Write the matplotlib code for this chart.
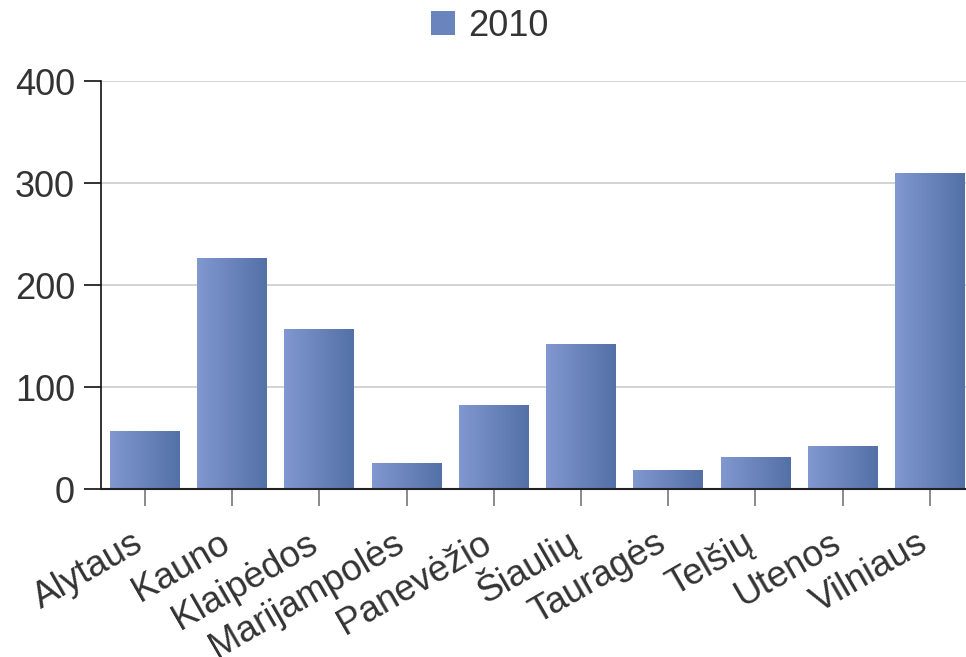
import numpy as np
import matplotlib
matplotlib.use('Agg')
import matplotlib.pyplot as plt
import matplotlib.transforms as mtransforms
from matplotlib.colors import LinearSegmentedColormap
from matplotlib.patches import Patch

# data
regions = ['Alytaus', 'Kauno', 'Klaipėdos', 'Marijampolės', 'Panevėžio',
           'Šiaulių', 'Tauragės', 'Telšių', 'Utenos', 'Vilniaus']
values_2010 = [57, 227, 157, 26, 83, 142, 19, 32, 42, 310]
series_name = '2010'
yticks = [0, 100, 200, 300, 400]

plt.rcParams['font.family'] = ['Liberation Sans', 'DejaVu Sans']
txt_color = '#333333'
c_left = '#8198d0'
c_right = '#5370a7'
grad = LinearSegmentedColormap.from_list('bar', [c_left, c_right])

fig = plt.figure(figsize=(9.66, 6.57), dpi=100)
ax = fig.add_axes([0.1049, 0.2553, 0.8951, 0.6214])

x = np.arange(len(regions))
bars = ax.bar(x, values_2010, width=0.8, color=c_right, zorder=2)

# horizontal gradient on each bar
g = np.linspace(0, 1, 256).reshape(1, -1)
for b in bars:
    x0, w, h = b.get_x(), b.get_width(), b.get_height()
    im = ax.imshow(g, cmap=grad, aspect='auto', extent=(x0, x0 + w, 0, h),
                   zorder=3, interpolation='bilinear')
    im.set_clip_path(b)

ax.set_xlim(-0.5, 9.415)
ax.set_ylim(0, 400)
ax.set_yticks(yticks)
ax.set_xticks(x)
# labels hang from the end of their baseline, like the original
ax.set_xticklabels(regions, rotation=30, ha='right', va='baseline',
                   rotation_mode='anchor', fontsize=26.5, color=txt_color)
shift = mtransforms.ScaledTranslation(0.04, 0, fig.dpi_scale_trans)
for lab in ax.get_xticklabels():
    lab.set_transform(lab.get_transform() + shift)
ax.tick_params(axis='y', labelsize=26, labelcolor=txt_color, length=12,
               width=1.2, color='#111111', pad=7)
ax.tick_params(axis='x', length=12, width=1.2, color='#777777', pad=31)

ax.grid(axis='y', color='#cccccc', linewidth=1.2, zorder=0)
ax.set_axisbelow(True)
for s in ['top', 'right']:
    ax.spines[s].set_visible(False)
ax.spines['left'].set_color('#111111')
ax.spines['left'].set_linewidth(1.2)
ax.spines['bottom'].set_color('#222222')
ax.spines['bottom'].set_linewidth(1.5)
ax.spines['bottom'].set_zorder(4)

handle = Patch(facecolor='#6a84bd', edgecolor='none')
fig.legend([handle], [series_name], loc='center', bbox_to_anchor=(0.507, 0.96),
           frameon=False, fontsize=26, handlelength=0.67, handleheight=0.64,
           handletextpad=0.35, labelcolor=txt_color)

fig.savefig('out.png', dpi=100)
